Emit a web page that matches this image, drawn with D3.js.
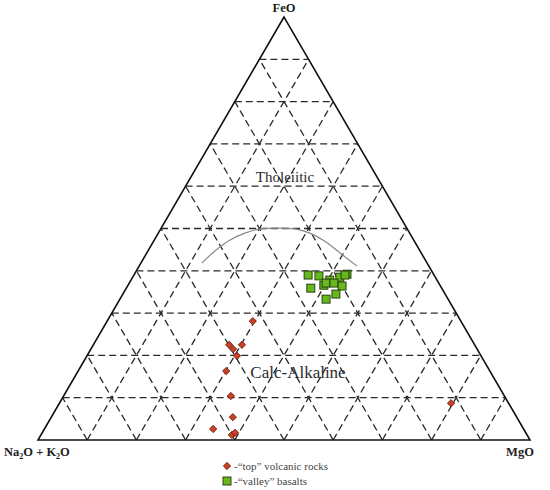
<!DOCTYPE html>
<html>
<head>
<meta charset="utf-8">
<script src="https://cdn.jsdelivr.net/npm/d3@7"></script>
<style>
  body { margin: 0; background: #fff; }
  svg { display: block; }
</style>
</head>
<body>
<svg id="container"></svg>
<script>
// ternary data, percent: FeO (top), MgO (bottom right); alkalis = 100 - FeO - MgO
var valleyFeO = [39.0, 38.8, 37.8, 38.5, 39.2, 35.9, 36.6, 37.1, 37.1, 36.4, 34.5, 33.3, 39.0];
var valleyMgO = [35.4, 37.7, 40.4, 42.1, 43.2, 37.5, 39.8, 40.0, 41.6, 43.6, 43.3, 41.9, 42.9];

var topFeO = [28.1, 22.5, 21.5, 22.5, 19.9, 16.3, 10.4, 5.4, 2.6, 1.2, 1.7, 8.7];
var topMgO = [29.6, 27.6, 28.9, 30.2, 30.5, 30.1, 34.0, 36.9, 34.3, 38.8, 39.2, 79.6];

// tholeiitic / calc-alkaline boundary
var lineFeO = [41.8, 44.7, 47.3, 48.9, 49.9, 50.1, 49.9, 48.9, 47.0, 44.2, 41.1];
var lineMgO = [12.4, 13.6, 15.4, 17.6, 20.2, 23.5, 27.3, 30.8, 34.8, 39.3, 44.3];

var gridSteps = [10, 20, 30, 40, 50, 60, 70, 80, 90];

var width = 550, height = 490;
var svg = d3.select("#container").attr("width", width).attr("height", height);

var xScale = d3.scaleLinear().domain([0, 100]).range([38, 530]);
var yScale = d3.scaleLinear().domain([0, 100]).range([440, 17]);

function proj(f, m) {
  return [xScale(m + f / 2), yScale(f)];
}

// grid
var grid = svg.append("g")
  .attr("fill", "none")
  .attr("stroke", "#2a2a2a")
  .attr("stroke-width", 1.3)
  .attr("stroke-dasharray", "7,4");

gridSteps.forEach(function(k) {
  // FeO = k (horizontal)
  var a = proj(k, 0), b = proj(k, 100 - k);
  grid.append("line").attr("x1", a[0]).attr("y1", a[1]).attr("x2", b[0]).attr("y2", b[1]);
  // MgO = k
  a = proj(0, k); b = proj(100 - k, k);
  grid.append("line").attr("x1", a[0]).attr("y1", a[1]).attr("x2", b[0]).attr("y2", b[1]);
  // alkalis = k
  a = proj(0, 100 - k); b = proj(100 - k, 0);
  grid.append("line").attr("x1", a[0]).attr("y1", a[1]).attr("x2", b[0]).attr("y2", b[1]);
});

// outline
var corners = [proj(100, 0), proj(0, 0), proj(0, 100)];
svg.append("path")
  .attr("d", "M" + corners.map(function(c) { return c.join(","); }).join("L") + "Z")
  .attr("fill", "none")
  .attr("stroke", "#111")
  .attr("stroke-width", 1.6);

// boundary curve
var line = d3.line()
  .x(function(d) { return proj(d[0], d[1])[0]; })
  .y(function(d) { return proj(d[0], d[1])[1]; })
  .curve(d3.curveCatmullRom);
svg.append("path")
  .datum(lineFeO.map(function(f, i) { return [f, lineMgO[i]]; }))
  .attr("d", line)
  .attr("fill", "none")
  .attr("stroke", "#888")
  .attr("stroke-width", 1.2);

// field labels
svg.append("text")
  .attr("x", 285).attr("y", 182)
  .attr("text-anchor", "middle")
  .attr("font-family", "Liberation Serif, serif")
  .attr("font-size", 15)
  .attr("fill", "#2a2a2a")
  .text("Tholeiitic");

svg.append("text")
  .attr("x", 298).attr("y", 378)
  .attr("text-anchor", "middle")
  .attr("font-family", "Liberation Serif, serif")
  .attr("font-size", 17)
  .attr("fill", "#2a2a2a")
  .text("Calc-Alkaline");

// points
var sq = 8;
svg.append("g").selectAll("rect")
  .data(valleyFeO.map(function(f, i) { return [f, valleyMgO[i]]; }))
  .enter().append("rect")
  .attr("x", function(d) { return proj(d[0], d[1])[0] - sq / 2; })
  .attr("y", function(d) { return proj(d[0], d[1])[1] - sq / 2; })
  .attr("width", sq).attr("height", sq)
  .attr("fill", "#66b81c")
  .attr("stroke", "#1f3308")
  .attr("stroke-width", 0.9);

var diamond = d3.symbol().type(d3.symbolDiamond2).size(34);
svg.append("g").selectAll("path")
  .data(topFeO.map(function(f, i) { return [f, topMgO[i]]; }))
  .enter().append("path")
  .attr("d", diamond)
  .attr("transform", function(d) { var p = proj(d[0], d[1]); return "translate(" + p[0] + "," + p[1] + ")"; })
  .attr("fill", "#cc4024")
  .attr("stroke", "#5a1408")
  .attr("stroke-width", 0.8);

// vertex labels
var vlab = svg.append("g")
  .attr("font-family", "Liberation Serif, serif")
  .attr("font-weight", "bold")
  .attr("font-size", 12.5)
  .attr("fill", "#222");

vlab.append("text").attr("x", 284).attr("y", 12).attr("text-anchor", "middle").text("FeO");
var alk = vlab.append("text").attr("x", 4).attr("y", 456);
alk.append("tspan").text("Na");
alk.append("tspan").attr("font-size", 8).attr("dy", 3).text("2");
alk.append("tspan").attr("dy", -3).text("O + K");
alk.append("tspan").attr("font-size", 8).attr("dy", 3).text("2");
alk.append("tspan").attr("dy", -3).text("O");
vlab.append("text").attr("x", 520).attr("y", 456).attr("text-anchor", "middle").text("MgO");

// legend
var leg = svg.append("g")
  .attr("font-family", "Liberation Serif, serif")
  .attr("font-size", 11)
  .attr("fill", "#444");

leg.append("path")
  .attr("d", d3.symbol().type(d3.symbolDiamond2).size(34))
  .attr("transform", "translate(227,466)")
  .attr("fill", "#cc4024")
  .attr("stroke", "#5a1408")
  .attr("stroke-width", 0.8);
leg.append("text").attr("x", 234).attr("y", 469.5).text("-\u201ctop\u201d volcanic rocks");

leg.append("rect")
  .attr("x", 223).attr("y", 477).attr("width", sq).attr("height", sq)
  .attr("fill", "#66b81c")
  .attr("stroke", "#1f3308")
  .attr("stroke-width", 0.9);
leg.append("text").attr("x", 234).attr("y", 485).text("-\u201cvalley\u201d basalts");
</script>
</body>
</html>
